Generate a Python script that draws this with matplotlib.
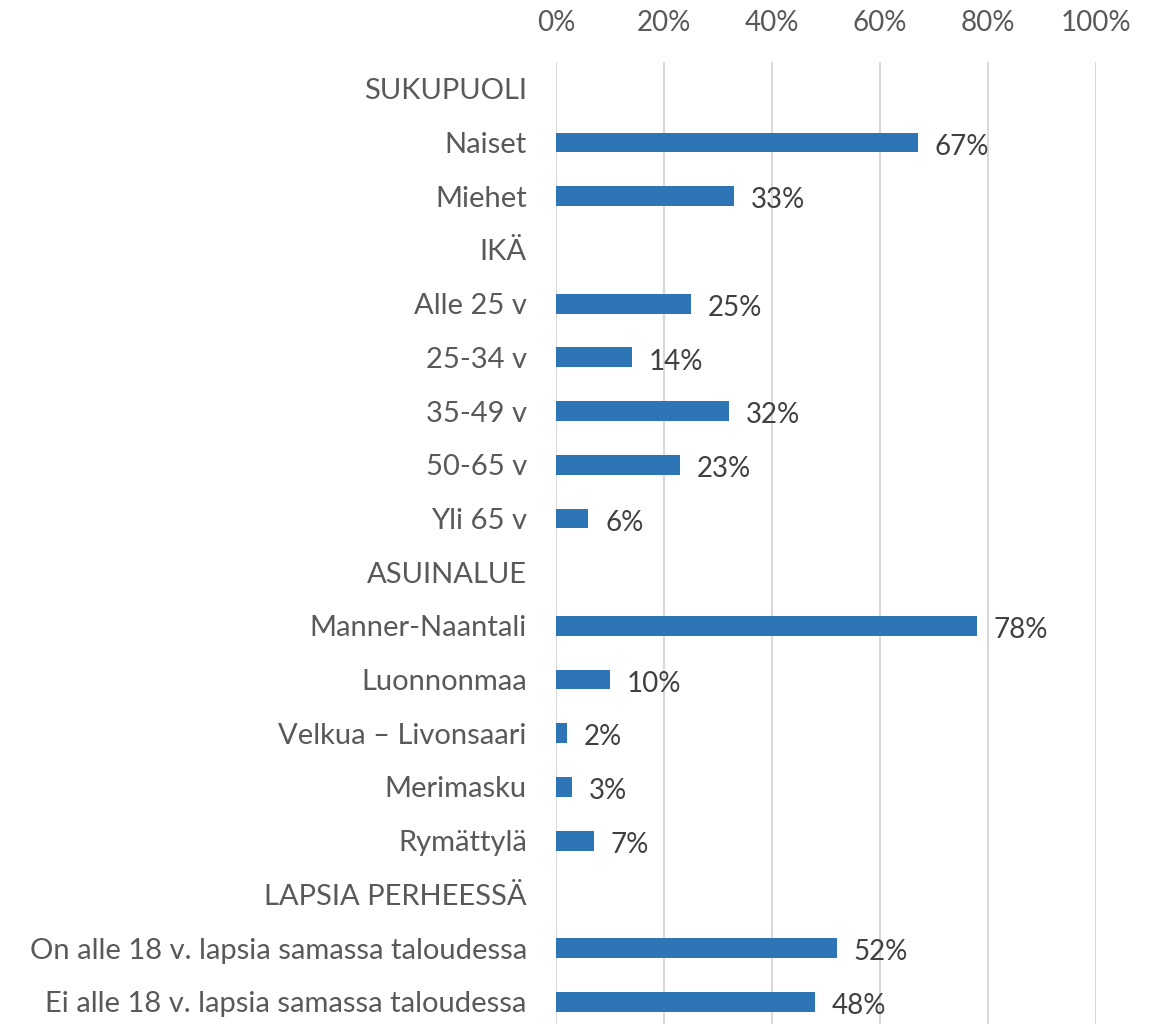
import matplotlib.pyplot as plt

categories = [
    'SUKUPUOLI', 'Naiset', 'Miehet',
    'IKÄ', 'Alle 25 v', '25-34 v', '35-49 v', '50-65 v', 'Yli 65 v',
    'ASUINALUE', 'Manner-Naantali', 'Luonnonmaa', 'Velkua – Livonsaari',
    'Merimasku', 'Rymättylä',
    'LAPSIA PERHEESSÄ', 'On alle 18 v. lapsia samassa taloudessa',
    'Ei alle 18 v. lapsia samassa taloudessa',
]
values = [None, 67, 33, None, 25, 14, 32, 23, 6, None, 78, 10, 2, 3, 7, None, 52, 48]
ticks = [0, 20, 40, 60, 80, 100]
tick_labels = ['0%', '20%', '40%', '60%', '80%', '100%']

plt.rcParams['font.family'] = ['Lato', 'DejaVu Sans']

fig = plt.figure(figsize=(11.61, 10.24), dpi=100)
ax = fig.add_axes([556 / 1161, 0, 540 / 1161, 1 - 62 / 1024])

pos = list(range(len(categories)))
bar_pos = [p for p, v in zip(pos, values) if v is not None]
bar_vals = [v for v in values if v is not None]
ax.barh(bar_pos, bar_vals, height=0.37, color='#2E75B6', zorder=3)

for p, v in zip(bar_pos, bar_vals):
    ax.annotate(f'{v}%', (v, p), xytext=(12, -3), textcoords='offset points',
                ha='left', va='center', fontsize=20, color='#404040')

row = 53.7
ax.set_ylim(-0.5 + 962 / row, -0.5)
ax.set_xlim(0, 100)
ax.set_yticks(pos)
ax.set_yticklabels(categories, fontsize=21, color='#595959')
ax.set_xticks(ticks)
ax.set_xticklabels(tick_labels, fontsize=20, color='#595959')
ax.xaxis.tick_top()
ax.tick_params(axis='both', length=0)
ax.tick_params(axis='y', pad=21)
ax.tick_params(axis='x', pad=19)
ax.grid(axis='x', color='#d9d9d9', linewidth=1.5, zorder=0)
for s in ax.spines.values():
    s.set_visible(False)

fig.savefig('out.png', dpi=100)
